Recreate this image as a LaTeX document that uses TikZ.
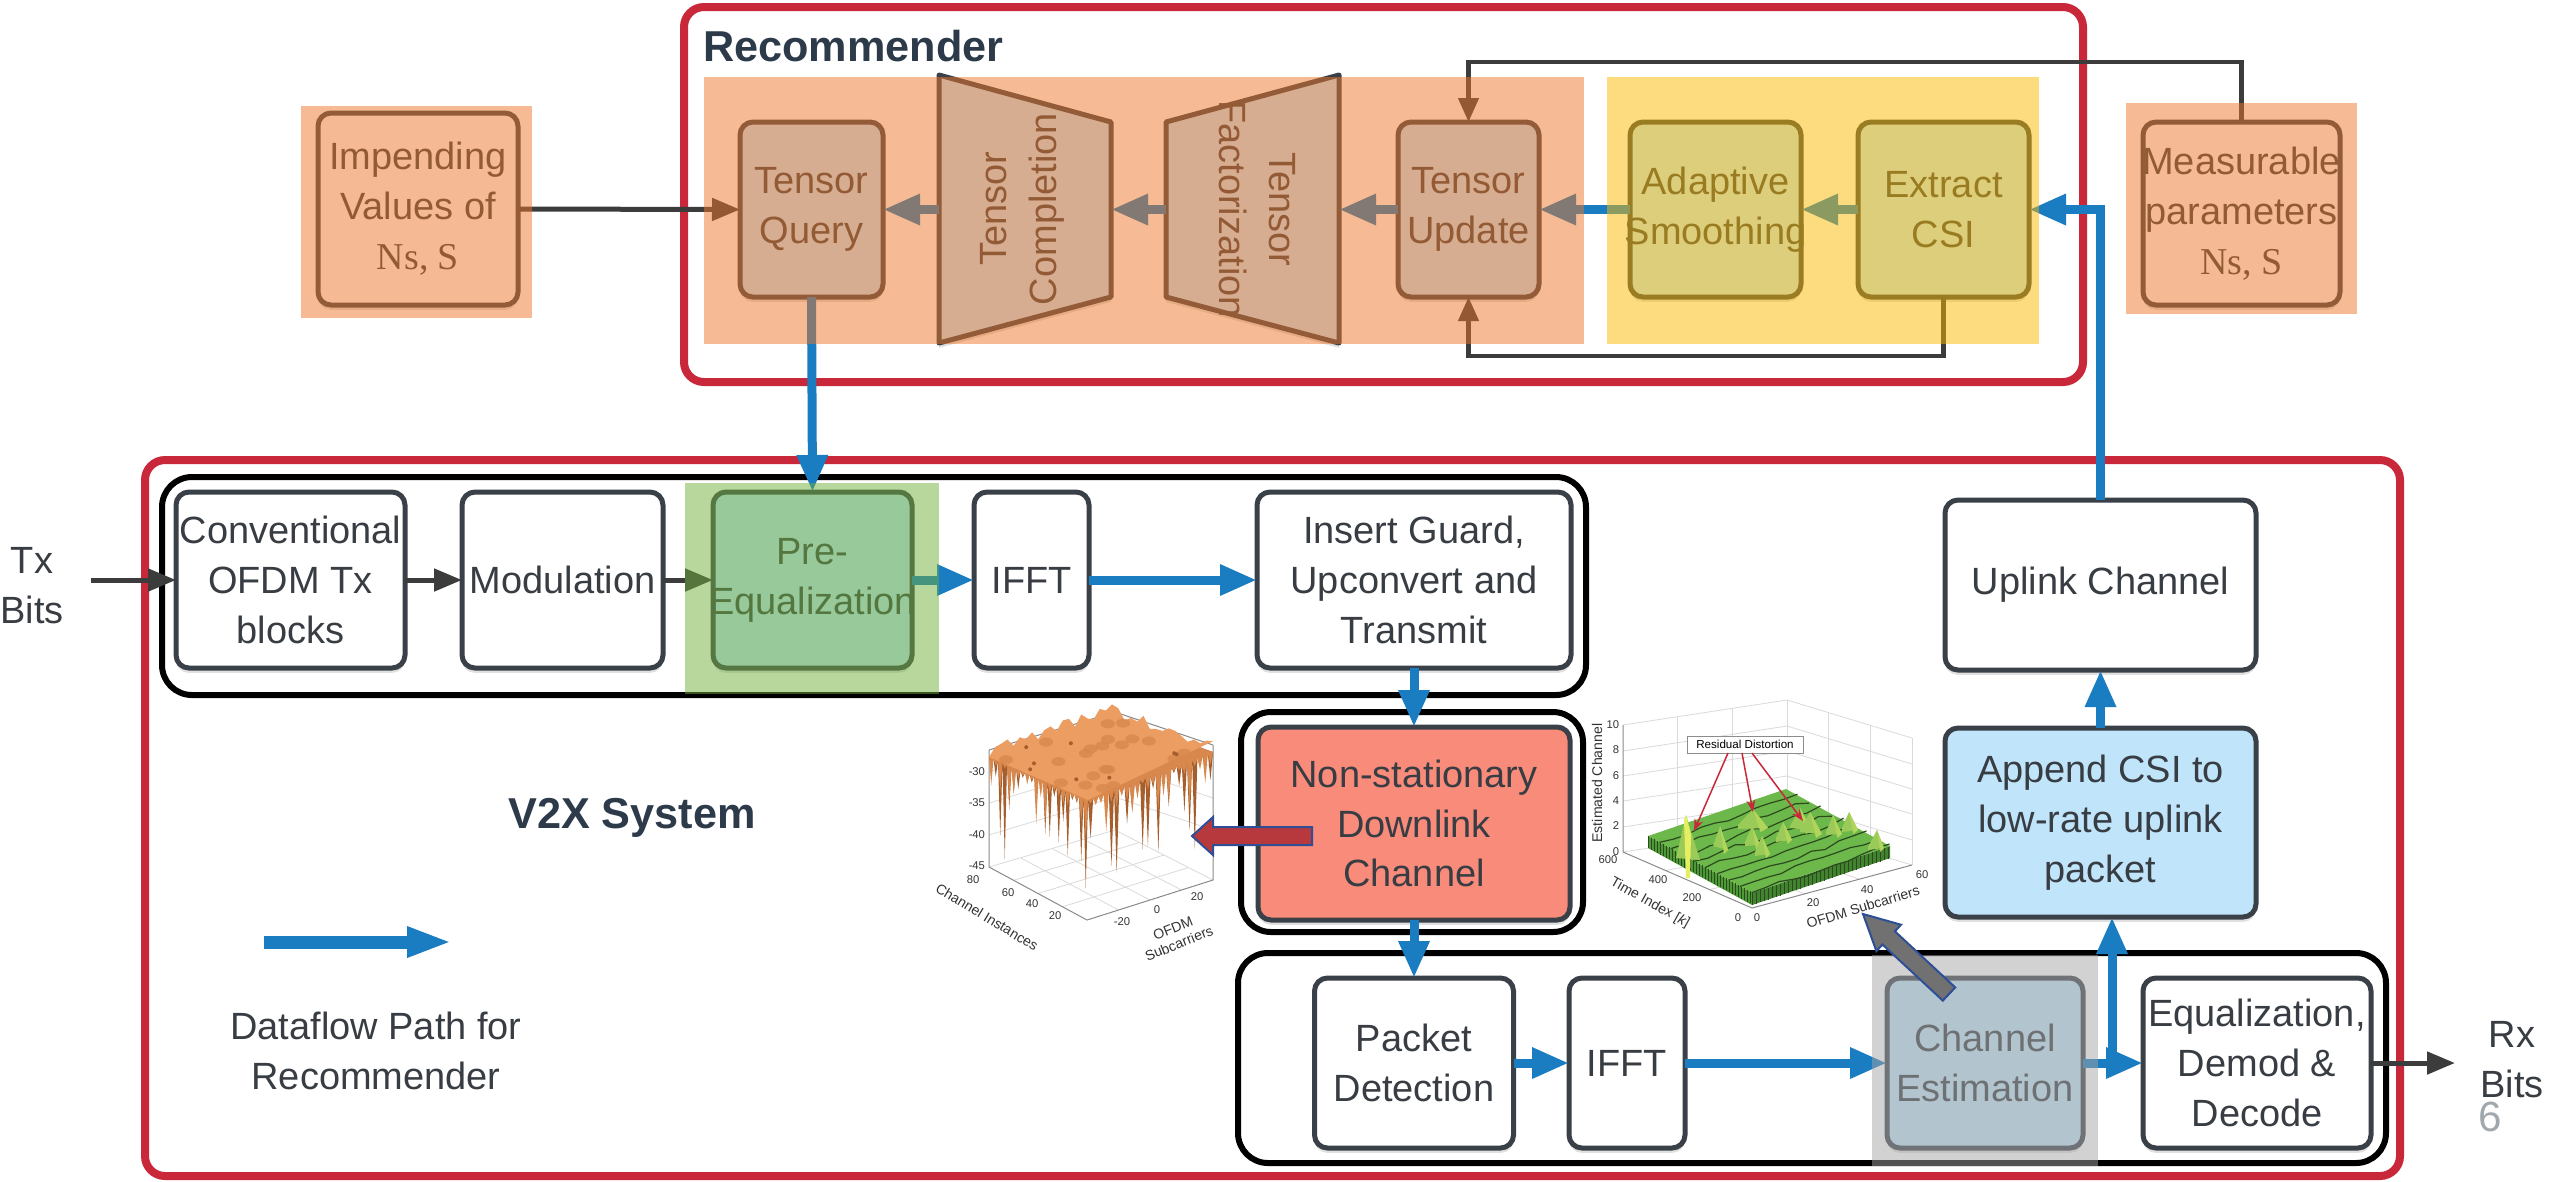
\documentclass[tikz,border=0pt]{standalone}
\usepackage{fontspec}
\setmainfont{Liberation Sans}
\newfontfamily\serifNS{Liberation Serif}
\usetikzlibrary{arrows.meta,shadows}

\definecolor{edge}{HTML}{3A4047}
\definecolor{ink}{HTML}{383D43}
\definecolor{titleink}{HTML}{2C3A4A}
\definecolor{frame}{HTML}{C9283A}
\definecolor{flowblue}{HTML}{1A7CC1}
\definecolor{darkline}{HTML}{3C3C3C}
\definecolor{lblue}{HTML}{C0E4F9}
\definecolor{salmon}{HTML}{F98B7B}
\definecolor{ovorange}{RGB}{237,119,41}
\definecolor{ovyellow}{RGB}{251,185,0}
\definecolor{ovgreen}{RGB}{112,175,60}
\definecolor{ovgray}{RGB}{165,165,165}
\definecolor{fatred}{HTML}{B8393D}
\definecolor{fatgray}{HTML}{717171}
\definecolor{outlineblue}{HTML}{2E4E96}
\definecolor{pagegray}{HTML}{A0A8AD}
\definecolor{axgray}{HTML}{8A8A8A}
\definecolor{gridgray}{HTML}{DADADA}
\definecolor{surflight}{HTML}{EB9D62}
\definecolor{surfmid}{HTML}{D8884C}
\definecolor{surfdark}{HTML}{A65E2C}
\definecolor{grtop}{HTML}{6CB84B}
\definecolor{grside}{HTML}{4C9A36}
\definecolor{grdark}{HTML}{2C4A1E}
\definecolor{grpeak}{HTML}{9ACB58}
\definecolor{grhigh}{HTML}{E6EE62}

\newcommand\boxfont{\fontsize{10.8}{14.2}\selectfont}
\newcommand\headfont{\fontsize{12.3}{14}\selectfont\bfseries}
\newcommand\tickfont{\fontsize{3.2}{3.6}\selectfont}
\newcommand\labfont{\fontsize{4}{4.6}\selectfont}

\begin{document}
\begin{tikzpicture}[x=0.1mm, y=-0.1mm,
  every node/.style={inner sep=0pt, outer sep=0pt},
  softshadow/.style={drop shadow={shadow xshift=0pt, shadow yshift=-1.4pt, opacity=0.12, fill=black}},
  box/.style={draw=edge, line width=0.5mm, rounded corners=1.3mm, fill=white,
              text=ink, align=center, font=\boxfont, softshadow},
  lbox/.style={box, fill=lblue},
  trap/.style={draw=edge, line width=0.5mm, fill=lblue, line join=round, softshadow},
  redframe/.style={draw=frame, line width=0.8mm, rounded corners=2mm},
  group/.style={draw=black, line width=0.6mm, rounded corners=3mm},
  fl/.style={draw=flowblue, line width=0.9mm, -{Triangle[length=3.7mm,width=2.9mm]}},
  dk/.style={draw=darkline, line width=0.5mm, -{Triangle[length=2.8mm,width=2.2mm]}},
  lp/.style={draw=darkline, line width=0.45mm, -{Triangle[length=2.4mm,width=2mm]}},
  legendflow/.style={draw=flowblue, line width=1.3mm, -{Triangle[length=4.5mm,width=2.8mm]}},
  plain/.style={text=ink, align=center, font=\boxfont},
  overlay/.style={opacity=0.5},
  ax/.style={draw=axgray, line width=0.1mm},
  gr/.style={draw=gridgray, line width=0.08mm},
  tick/.style={font=\tickfont, text=black!80},
  axlab/.style={font=\labfont, text=black!80, align=center}]

\useasboundingbox (0,0) rectangle (2554,1181);

% ---------- outer frames ----------
\draw[redframe] (684,7) rectangle (2083,382);
\draw[redframe] (145,460) rectangle (2400,1176);

% ---------- transmitter / receiver groups ----------
\draw[group] (162,477) rectangle (1586,695);
\draw[group] (1241,712) rectangle (1583,932);
\draw[group] (1238,953) rectangle (2386,1163);

% ---------- recommender blocks ----------
\node[box, minimum width=20mm, minimum height=19.2mm] (imp) at (418,209)
  {Impending\\Values of\\{\serifNS Ns, S}};
\node[lbox, minimum width=14.3mm, minimum height=17.5mm] (tq) at (811.5,209.5) {Tensor\\Query};
\draw[trap] (939,75) -- (1111,122) -- (1111,297) -- (939,343) -- cycle;
\node[rotate=90, plain] (tc) at (1022,209) {Tensor\\Completion};
\coordinate (tcW) at (939,209.5);
\coordinate (tcE) at (1111,209.5);
\draw[trap] (1166,122) -- (1339,75) -- (1339,343) -- (1166,297) -- cycle;
\node[rotate=-90, plain] (tf) at (1257,209) {Tensor\\Factorization};
\coordinate (tfW) at (1166,209.5);
\coordinate (tfE) at (1339,209.5);
\node[lbox, minimum width=14.1mm, minimum height=17.5mm] (tu) at (1468.5,209.5) {Tensor\\Update};
\node[lbox, minimum width=17.1mm, minimum height=17.5mm] (adapt) at (1715.5,209.5)
  {Adaptive\\\makebox[0pt]{Smoothing}};
\node[lbox, minimum width=17.1mm, minimum height=17.5mm] (csi) at (1943.5,209.5) {Extract\\CSI};
\node[box, minimum width=19.7mm, minimum height=18.3mm] (meas) at (2241.5,213.5)
  {\makebox[0pt]{Measurable}\\parameters\\{\serifNS Ns, S}};

% ---------- V2X blocks ----------
\node[box, minimum width=22.9mm, minimum height=17.6mm] (conv) at (290.5,580)
  {Conventional\\OFDM Tx\\blocks};
\node[box, minimum width=20.1mm, minimum height=17.6mm] (mod) at (562.5,580) {Modulation};
\node[lbox, minimum width=19.9mm, minimum height=17.6mm] (preq) at (812.5,580)
  {Pre-\\\makebox[0pt]{Equalization}};
\node[box, minimum width=11.5mm, minimum height=17.6mm] (ifftA) at (1031.5,580) {IFFT};
\node[box, minimum width=31.4mm, minimum height=17.6mm] (guard) at (1414,580)
  {Insert Guard,\\Upconvert and\\Transmit};
\node[box, fill=salmon, minimum width=31.2mm, minimum height=19.3mm] (chan) at (1414,823.5)
  {Non-stationary\\Downlink\\Channel};
\node[box, minimum width=19.9mm, minimum height=17mm] (pkt) at (1414,1063) {Packet\\Detection};
\node[box, minimum width=11.6mm, minimum height=17mm] (ifftB) at (1627,1063) {IFFT};
\node[lbox, minimum width=19.6mm, minimum height=17mm] (chest) at (1985,1063) {Channel\\Estimation};
\node[box, minimum width=22.8mm, minimum height=17mm] (eqz) at (2257,1063)
  {Equalization,\\Demod \&\\Decode};
\node[box, minimum width=31.1mm, minimum height=17mm] (uplink) at (2100.5,585) {Uplink Channel};
\node[lbox, minimum width=31.1mm, minimum height=18.9mm] (append) at (2100.5,822.5)
  {Append CSI to\\low-rate uplink\\packet};

% ---------- labels ----------
\node[font=\headfont, text=titleink, anchor=west] (rtitle) at (703,46) {Recommender};
\node[font=\headfont, text=titleink] (vtitle) at (632,818) {V2X System};
\node[plain] (legtext) at (376,1051) {Dataflow Path for\\Recommender};
\node[plain] (tx) at (32,586) {Tx\\Bits};
\node[plain] (rx) at (2512,1060) {Rx\\Bits};
\node[font=\fontsize{12}{12}\selectfont, text=pagegray] (pg) at (2490,1117) {6};

% ---------- connectors: recommender ----------
\draw[dk] (imp.east) -- (tq.west);
\draw[fl] (tcW) -- (tq.east);
\draw[fl] (tfW) -- (tcE);
\draw[fl] (tu.west) -- (tfE);
\draw[fl] (adapt.west) -- (tu.east);
\draw[fl] (csi.west) -- (adapt.east);
\draw[lp] (meas.north) -- ++(0,-60) -| (tu.north);
\draw[lp] (csi.south) -- ++(0,59) -| (tu.south);
\draw[fl] (uplink.north) |- (csi.east);
\draw[fl] (tq.south) -- (preq.north);

% ---------- connectors: V2X chain ----------
\coordinate (txin) at (91,580);
\draw[dk] (txin) -- (conv.west);
\draw[dk] (conv) -- (mod);
\draw[dk] (mod) -- (preq);
\draw[fl] (preq) -- (ifftA);
\draw[fl] (ifftA) -- (guard);
\draw[fl] (guard) -- (chan);
\draw[fl] (chan) -- (pkt);
\draw[fl] (pkt) -- (ifftB);
\draw[fl] (ifftB) -- (chest);
\draw[fl] (chest) -- (eqz);
\coordinate (rxout) at (2455,1063);
\draw[dk] (eqz) -- (rxout);
\coordinate (br) at (2112,1068);
\draw[fl] (br) -- (br |- append.south);
\draw[fl] (append) -- (uplink);

% legend arrow
\coordinate (lgA) at (264,942);
\coordinate (lgB) at (452,942);
\draw[legendflow] (lgA) -- (lgB);

% ---------- translucent highlight panels ----------
\fill[ovorange, overlay] (704,77) rectangle (1584,344);
\fill[ovyellow, overlay] (1607,77) rectangle (2039,344);
\fill[ovorange, overlay] (301,106) rectangle (532,318);
\fill[ovorange, overlay] (2126,103) rectangle (2357,314);
\fill[ovgreen, overlay] (685,483) rectangle (939,694);
\fill[ovgray, overlay] (1872,955) rectangle (2098,1166);

% ---------- channel surface plot (left) ----------
\begin{scope}
  % walls and floor grid
  \foreach \z in {772,803,835} {
    \draw[gr] (989,\z) -- (1115,\z-38) -- (1213,\z-5);
  }
  \draw[gr] (1115,712) -- (1115,830);
  \draw[gr] (989,867) -- (1115,830) -- (1213,880);
  \foreach \t in {0.25,0.5,0.75} {
    \draw[gr] ({989+98*\t},{867+53*\t}) -- ({1115+98*\t},{830+50*\t});
    \draw[gr] ({989+126*\t},{867-37*\t}) -- ({1087+126*\t},{920-40*\t});
  }
  \draw[ax] (989,750) -- (1115,712) -- (1213,745);
  \draw[ax] (989,750) -- (989,867) -- (1087,920) -- (1213,880) -- (1213,745);
  % surface: deep dark valleys, shallower mid valleys, then the top sheet
  \pgfmathsetseed{7}
  \fill[surfdark] (989,757)
    \foreach \i in {1,...,22}{ -- ({989+(\i-0.5)*4.5},{757+(\i-0.5)*1.955+6+rnd^3*100}) -- ({989+\i*4.5},{757+\i*1.955}) }
    \foreach \i in {1,...,24}{ -- ({1088+(\i-0.5)*5.21},{800-(\i-0.5)*2+6+rnd^3*85}) -- ({1088+\i*5.21},{800-\i*2}) }
    -- (1112,716) -- cycle;
  \fill[surfmid] (989,757)
    \foreach \i in {1,...,22}{ -- ({989+(\i-0.5)*4.5},{757+(\i-0.5)*1.955+4+rnd^2*45}) -- ({989+\i*4.5},{757+\i*1.955}) }
    \foreach \i in {1,...,24}{ -- ({1088+(\i-0.5)*5.21},{800-(\i-0.5)*2+4+rnd^2*45}) -- ({1088+\i*5.21},{800-\i*2}) }
    -- (1112,716) -- cycle;
  \fill[surflight] (989,757)
    \foreach \i in {1,...,20}{ -- ({989+\i*6.15},{757-\i*2.05-rnd*12}) }
    \foreach \i in {1,...,16}{ -- ({1112+\i*6.31},{716+\i*2.25-rnd*12}) }
    -- (1088,800) -- cycle;
  \foreach \k in {1,...,22}{
    \pgfmathsetmacro\u{rnd}
    \pgfmathsetmacro\v{rnd}
    \fill[surfmid, opacity=0.8] ({989+123*\u+99*\v},{757-41*\u+43*\v}) ellipse[x radius=0.7mm, y radius=0.45mm];
  }
  \foreach \k in {1,...,8}{
    \pgfmathsetmacro\u{rnd}
    \pgfmathsetmacro\v{rnd}
    \fill[surfdark] ({989+123*\u+99*\v},{757-41*\u+43*\v}) circle[radius=0.2mm];
  }
  % ticks
  \foreach \z/\lab in {772/-30,803/-35,835/-40,866/-45} {
    \node[tick, anchor=east] (zl\lab) at (985,\z) {\lab};
  }
  \node[tick] (cl80) at (973,880) {80};
  \node[tick] (cl60) at (1008,893) {60};
  \node[tick] (cl40) at (1032,904) {40};
  \node[tick] (cl20) at (1055,916) {20};
  \node[axlab, rotate=-31] (cinst) at (987,917) {Channel Instances};
  \node[tick] (sl-20) at (1122,922) {-20};
  \node[tick] (sl0) at (1157,910) {0};
  \node[tick] (sl20) at (1197,897) {20};
  \node[axlab, rotate=22] (osub) at (1176,936) {OFDM\\Subcarriers};
\end{scope}

% ---------- estimated channel plot (right) ----------
\begin{scope}
  \foreach \z in {0,25,51,76,101,127} {
    \draw[gr] (1623,852-\z) -- (1787,827-\z) -- (1912,865-\z);
  }
  \draw[gr] (1787,827) -- (1787,700);
  \draw[gr] (1912,865) -- (1912,738);
  \foreach \t in {0.33,0.67} {
    \draw[gr] ({1623+129*\t},{852+56*\t}) -- ({1787+125*\t},{827+38*\t});
    \draw[gr] ({1623+164*\t},{852-25*\t}) -- ({1752+160*\t},{908-43*\t});
    \draw[gr] ({1623+164*\t},{852-25*\t}) -- ({1623+164*\t},{725-25*\t});
    \draw[gr] ({1787+125*\t},{827+38*\t}) -- ({1787+125*\t},{700+38*\t});
  }
  \draw[ax] (1623,725) -- (1623,852) -- (1752,908) -- (1912,865);
  % green block
  \fill[grside] (1648,836) -- (1752,893) -- (1752,905) -- (1648,848) -- cycle;
  \fill[grside!85!black] (1752,893) -- (1890,846) -- (1890,858) -- (1752,905) -- cycle;
  \fill[grtop] (1648,836) -- (1752,893) -- (1890,846) -- (1786,789) -- cycle;
  \foreach \i in {0,...,34} {
    \draw[grdark, line width=0.06mm] ({1648+\i*3},{836+\i*1.63}) -- ++(0,12);
    \draw[grdark, line width=0.06mm] ({1752+\i*4},{893-\i*1.36}) -- ++(0,12);
  }
  \pgfmathsetseed{4}
  \foreach \j in {1,...,9} {
    \draw[grdark, line width=0.12mm]
      ({1648+\j*11.5},{836+\j*6.3})
      \foreach \s in {1,...,10}{ -- ({1648+\j*11.5+\s*13.8},{836+\j*6.3-\s*4.7+rnd*5-2.5}) };
  }
  % peaks
  \foreach \xa/\ya/\xb/\yb/\xc/\yc/\col in {
      1713/846/1720/826/1728/850/grpeak,
      1745/842/1752/826/1760/845/grpeak,
      1755/852/1762/836/1770/854/grpeak,
      1776/838/1783/822/1792/840/grpeak,
      1826/832/1833/815/1842/834/grpeak,
      1842/828/1849/812/1858/830/grpeak,
      1868/847/1877/830/1884/848/grpeak,
      1738/825/1753/809/1768/828/grpeak,
      1790/826/1800/808/1812/830/grpeak,
      1800/830/1810/812/1822/834/grpeak} {
    \fill[\col] (\xa,\yb+20) -- (\xa,\ya) -- (\xb,\yb) -- (\xc,\yc) -- cycle;
    \fill[\col!70!grhigh] (\xb,\yb) -- (\xc,\yc) -- ({(\xb+\xc)/2},{\yc+4}) -- cycle;
  }
  \fill[grpeak] (1676,858) -- (1686,815) -- (1700,860) -- cycle;
  \fill[grhigh] (1684,820) -- (1686,815) -- (1691,835) -- (1690,878) -- (1686,878) -- cycle;
  % ticks
  \foreach \z/\lab in {725/10,750/8,776/6,801/4,826/2,852/0} {
    \node[tick, anchor=east] (el\lab) at (1619,\z) {\lab};
  }
  \node[axlab, rotate=90] (estch) at (1597,783) {Estimated Channel};
  \node[tick] (t600) at (1608,860) {600};
  \node[tick] (t400) at (1658,880) {400};
  \node[tick] (t200) at (1692,898) {200};
  \node[tick] (t0) at (1738,918) {0};
  \node[tick] (s0) at (1757,918) {0};
  \node[tick] (s20) at (1813,903) {20};
  \node[tick] (s40) at (1867,890) {40};
  \node[tick] (s60) at (1922,875) {60};
  \node[axlab, rotate=-29] (tidx) at (1650,903) {Time Index [\textit{k}]};
  \node[axlab, rotate=17] (osub2) at (1863,907) {OFDM Subcarriers};
  % annotation
  \node[draw=black!45, fill=white, line width=0.08mm, minimum width=11.6mm, minimum height=1.7mm,
        font=\fontsize{3.3}{3.6}\selectfont] (resid) at (1745,744.5) {Residual Distortion};
  \coordinate (pk1) at (1694,831);
  \coordinate (pk2) at (1753,812);
  \coordinate (pk3) at (1803,821);
  \draw[frame, line width=0.15mm, -{Stealth[length=1.2mm,width=0.9mm]}] (1728,753) -- (pk1);
  \draw[frame, line width=0.15mm, -{Stealth[length=1.2mm,width=0.9mm]}] (1742,753) -- (pk2);
  \draw[frame, line width=0.15mm, -{Stealth[length=1.2mm,width=0.9mm]}] (1752,753) -- (pk3);
\end{scope}

% ---------- block arrows pointing at the plots ----------
\filldraw[fill=fatred, draw=outlineblue, line width=0.2mm, line join=miter]
  (1192,836) -- (1213,817) -- (1213,827) -- (1312,827) -- (1312,845) -- (1213,845) -- (1213,855) -- cycle;
\filldraw[fill=fatgray, draw=outlineblue, line width=0.2mm, line join=miter]
  (1863,914) -- (1901.0,924.7) -- (1894.9,931.3) -- (1955.2,987.4) -- (1942.8,1000.6)
  -- (1882.5,944.5) -- (1876.4,951.1) -- cycle;

\end{tikzpicture}
\end{document}
